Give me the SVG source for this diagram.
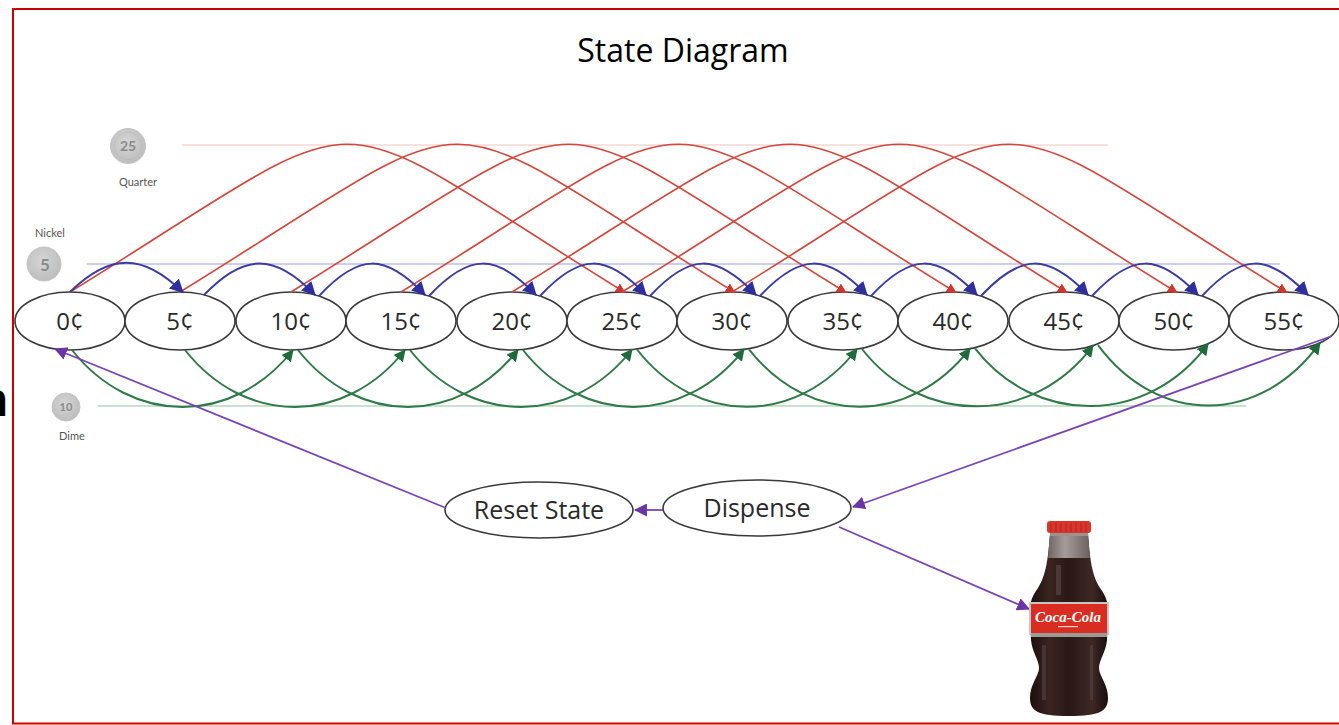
<svg xmlns="http://www.w3.org/2000/svg" width="1339" height="725" viewBox="0 0 1339 725">
  <style>
    .node ellipse { fill: #ffffff; stroke: #3a3a3a; stroke-width: 1.6; }
    .node text { font-family: "Open Sans", "Noto Sans", sans-serif; font-size: 24px; fill: #2a2a2a; text-anchor: middle; }
    .big ellipse { stroke-width: 1.6; }
    .big text { font-size: 25px; }
    .nickel { fill: none; stroke: #3b3ba6; stroke-width: 2; marker-end: url(#ah-blue); }
    .quarter { fill: none; stroke: #d4463b; stroke-width: 1.6; marker-end: url(#ah-red); }
    .dime { fill: none; stroke: #2f7a48; stroke-width: 2; marker-end: url(#ah-green); }
    .flow { fill: none; stroke: #7a45b6; stroke-width: 1.8; marker-end: url(#ah-purple); }
    .guide { stroke-width: 1.2; }
    .coin-label { font-family: "Lato", "Open Sans", sans-serif; font-size: 11px; fill: #555555; text-anchor: middle; }
    .coin-value { font-family: "Lato", "Open Sans", sans-serif; font-weight: bold; fill: #8a8a8a; text-anchor: middle; }
  </style>
  <defs>
    <marker id="ah-blue" viewBox="0 0 12 12" refX="11" refY="6" markerWidth="14" markerHeight="14" markerUnits="userSpaceOnUse" orient="auto">
      <path d="M0,0 L12,6 L0,12 z" fill="#2e2e9e"/>
    </marker>
    <marker id="ah-red" viewBox="0 0 12 12" refX="11" refY="6" markerWidth="10" markerHeight="10" markerUnits="userSpaceOnUse" orient="auto">
      <path d="M0,0 L12,6 L0,12 z" fill="#d0362c"/>
    </marker>
    <marker id="ah-green" viewBox="0 0 12 12" refX="11" refY="6" markerWidth="12" markerHeight="12" markerUnits="userSpaceOnUse" orient="auto">
      <path d="M0,0 L12,6 L0,12 z" fill="#1f6b3a"/>
    </marker>
    <marker id="ah-purple" viewBox="0 0 12 12" refX="11" refY="6" markerWidth="13" markerHeight="13" markerUnits="userSpaceOnUse" orient="auto">
      <path d="M0,0 L12,6 L0,12 z" fill="#6a35a8"/>
    </marker>
    <radialGradient id="coin-fill" cx="0.45" cy="0.4" r="0.6">
      <stop offset="0" stop-color="#d6d6d6"/>
      <stop offset="1" stop-color="#bdbdbd"/>
    </radialGradient>
    <linearGradient id="glass" x1="0" y1="0" x2="1" y2="0">
      <stop offset="0" stop-color="#1c0f0c"/>
      <stop offset="0.25" stop-color="#3a2420"/>
      <stop offset="0.5" stop-color="#2a1814"/>
      <stop offset="0.8" stop-color="#3d2824"/>
      <stop offset="1" stop-color="#1a0e0b"/>
    </linearGradient>
    <linearGradient id="neck" x1="0" y1="0" x2="1" y2="0">
      <stop offset="0" stop-color="#6e6464"/>
      <stop offset="0.4" stop-color="#a59c9b"/>
      <stop offset="1" stop-color="#6a605f"/>
    </linearGradient>
  </defs>

  <rect width="1339" height="725" fill="#ffffff"/>

  <!-- slide frame -->
  <path d="M1345,9 H13 V723.5 H1345" fill="none" stroke="#c80000" stroke-width="2"/>
  <text x="8" y="416" font-family="Liberation Sans, sans-serif" font-size="48" font-weight="bold" text-anchor="end" fill="#000000">n</text>

  <text x="683" y="62" font-family="Open Sans, Noto Sans, sans-serif" font-size="32" fill="#000000" text-anchor="middle">State Diagram</text>

  <!-- coin guide lines -->
  <g id="guides">
    <line class="guide" x1="182" y1="145" x2="1108" y2="145" stroke="#f3c6bb"/>
    <line class="guide" x1="87" y1="264" x2="1280" y2="264" stroke="#9d9de2"/>
    <line class="guide" x1="98" y1="406" x2="1246" y2="406" stroke="#8fc69d"/>
  </g>

  <!-- coin legend -->
  <g id="coin-quarter">
    <circle cx="128" cy="146" r="17.5" fill="url(#coin-fill)" stroke="#c4c4c4"/>
    <circle cx="128" cy="146" r="13.5" fill="none" stroke="#b3b3b3" stroke-width="0.8" stroke-dasharray="1.5 1.2"/>
    <text class="coin-value" x="128" y="151" font-size="14">25</text>
    <text class="coin-label" x="138" y="186">Quarter</text>
  </g>
  <g id="coin-nickel">
    <text class="coin-label" x="50" y="237">Nickel</text>
    <circle cx="44" cy="264" r="17" fill="url(#coin-fill)" stroke="#c4c4c4"/>
    <text class="coin-value" x="45" y="270.5" font-size="17">5</text>
  </g>
  <g id="coin-dime">
    <circle cx="66" cy="407" r="14" fill="url(#coin-fill)" stroke="#c4c4c4"/>
    <text class="coin-value" x="66" y="411" font-size="11">10</text>
    <text class="coin-label" x="72" y="440">Dime</text>
  </g>

  <!-- state nodes -->
  <g id="node-0" class="node"><ellipse cx="70" cy="321" rx="55" ry="29"/><text x="70" y="329.5">0¢</text></g>
  <g id="node-5" class="node"><ellipse cx="180" cy="321" rx="55" ry="29"/><text x="180" y="329.5">5¢</text></g>
  <g id="node-10" class="node"><ellipse cx="291" cy="321" rx="55" ry="29"/><text x="291" y="329.5">10¢</text></g>
  <g id="node-15" class="node"><ellipse cx="401" cy="321" rx="55" ry="29"/><text x="401" y="329.5">15¢</text></g>
  <g id="node-20" class="node"><ellipse cx="512" cy="321" rx="55" ry="29"/><text x="512" y="329.5">20¢</text></g>
  <g id="node-25" class="node"><ellipse cx="622" cy="321" rx="55" ry="29"/><text x="622" y="329.5">25¢</text></g>
  <g id="node-30" class="node"><ellipse cx="732" cy="321" rx="55" ry="29"/><text x="732" y="329.5">30¢</text></g>
  <g id="node-35" class="node"><ellipse cx="843" cy="321" rx="55" ry="29"/><text x="843" y="329.5">35¢</text></g>
  <g id="node-40" class="node"><ellipse cx="953" cy="321" rx="55" ry="29"/><text x="953" y="329.5">40¢</text></g>
  <g id="node-45" class="node"><ellipse cx="1064" cy="321" rx="55" ry="29"/><text x="1064" y="329.5">45¢</text></g>
  <g id="node-50" class="node"><ellipse cx="1174" cy="321" rx="55" ry="29"/><text x="1174" y="329.5">50¢</text></g>
  <g id="node-55" class="node"><ellipse cx="1284" cy="321" rx="55" ry="29"/><text x="1284" y="329.5">55¢</text></g>

  <g id="node-reset" class="node big"><ellipse cx="539" cy="510" rx="94" ry="28"/><text x="539" y="518.5">Reset State</text></g>
  <g id="node-dispense" class="node big"><ellipse cx="757" cy="508" rx="94" ry="28"/><text x="757" y="516.5">Dispense</text></g>

  <!-- transitions -->
  <g id="connectors">
    <!-- quarter: +25 -->
    <path class="quarter" d="M70,292 C390,95 305,95 625,292.5"/>
    <path class="quarter" d="M180,292 C500,95 415,95 735,292.5"/>
    <path class="quarter" d="M291,292 C611,95 526,95 846,292.5"/>
    <path class="quarter" d="M401,292 C721,95 636,95 956,292.5"/>
    <path class="quarter" d="M512,292 C832,95 747,95 1067,292.5"/>
    <path class="quarter" d="M622,292 C942,95 857,95 1177,292.5"/>
    <path class="quarter" d="M732,292 C1052,95 967,95 1287,292.5"/>

    <!-- nickel: +5 -->
    <path class="nickel" d="M70,292 C110,253 143,253 183,292.5"/>
    <path class="nickel" d="M204,295 C244,253 275,253 315,295"/>
    <path class="nickel" d="M319,296 C359,253 385,253 425,295"/>
    <path class="nickel" d="M429,296 C469,253 496,253 536,295"/>
    <path class="nickel" d="M540,296 C580,253 606,253 646,295"/>
    <path class="nickel" d="M650,296 C690,253 716,253 756,295"/>
    <path class="nickel" d="M760,296 C800,253 827,253 867,295"/>
    <path class="nickel" d="M871,296 C911,253 937,253 977,295"/>
    <path class="nickel" d="M981,296 C1021,253 1048,253 1088,295"/>
    <path class="nickel" d="M1092,296 C1132,253 1158,253 1198,295"/>
    <path class="nickel" d="M1202,296 C1242,253 1268,253 1308,295"/>

    <!-- dime: +10 -->
    <path class="dime" d="M72,350 C132,426 233,426 293,350"/>
    <path class="dime" d="M185,350 C245,426 345,426 405,350"/>
    <path class="dime" d="M298,350 C358,426 458,426 518,349.8"/>
    <path class="dime" d="M410,350 C470,426 572,426 632,349.5"/>
    <path class="dime" d="M523,350 C583,426 684,426 744,349.3"/>
    <path class="dime" d="M637,349.5 C697,426 797,426 857,349"/>
    <path class="dime" d="M749,349.3 C809,426 910,426 970,348.6"/>
    <path class="dime" d="M862,349 C922,426 1033,426 1093,345.6"/>
    <path class="dime" d="M975,348.4 C1035,426 1148,426 1208,343.8"/>
    <path class="dime" d="M1098,345.2 C1158,426 1260,426 1320,342.9"/>

    <!-- vend cycle -->
    <path class="flow" d="M1332,336 L853,507"/>
    <path class="flow" d="M663,510 L635,510"/>
    <path class="flow" d="M446,508 L55,349"/>
    <path class="flow" d="M839,527 L1029,609"/>
  </g>

  <!-- bottle -->
  <g id="bottle">
    <path d="M1050,534 L1088,534 C1090,560 1092,575 1100,588 C1106,596 1108,602 1108,612 L1107,640 C1106,652 1099,660 1099,668 C1099,676 1108,684 1108,698 C1108,711 1100,716 1069,716 C1038,716 1030,711 1030,698 C1030,684 1039,676 1039,668 C1039,660 1032,652 1031,640 L1030,612 C1030,602 1032,596 1038,588 C1046,575 1048,560 1050,534 Z" fill="url(#glass)"/>
    <path d="M1050,534 L1088,534 C1089,545 1089.5,552 1090,558 L1048,558 C1048.5,552 1049,545 1050,534 Z" fill="url(#neck)"/>
    <rect x="1050" y="532" width="38" height="4" fill="#9c9292"/>
    <rect x="1047" y="521" width="44" height="12" rx="3" fill="#d8352c"/>
    <path d="M1051,523 V532 M1056,523 V532 M1061,523 V532 M1066,523 V532 M1071,523 V532 M1076,523 V532 M1081,523 V532 M1086,523 V532" stroke="#b52420" stroke-width="1"/>
    <rect x="1056" y="565" width="5" height="30" fill="#ffffff" opacity="0.12"/>
    <rect x="1042" y="645" width="4" height="55" fill="#ffffff" opacity="0.1"/>
    <rect x="1090" y="645" width="3" height="55" fill="#ffffff" opacity="0.08"/>
    <rect x="1029" y="602" width="80" height="33" fill="#c9c6c2"/>
    <rect x="1031" y="604" width="76" height="29" fill="#d92d22"/>
    <rect x="1031" y="633" width="76" height="4" fill="#9a9a96"/>
    <text x="1068" y="622" font-family="Liberation Serif, serif" font-style="italic" font-weight="bold" font-size="15" fill="#ffffff" text-anchor="middle">Coca-Cola</text>
    <rect x="1058" y="626" width="20" height="1.2" fill="#ffffff" opacity="0.8"/>
  </g>
</svg>
